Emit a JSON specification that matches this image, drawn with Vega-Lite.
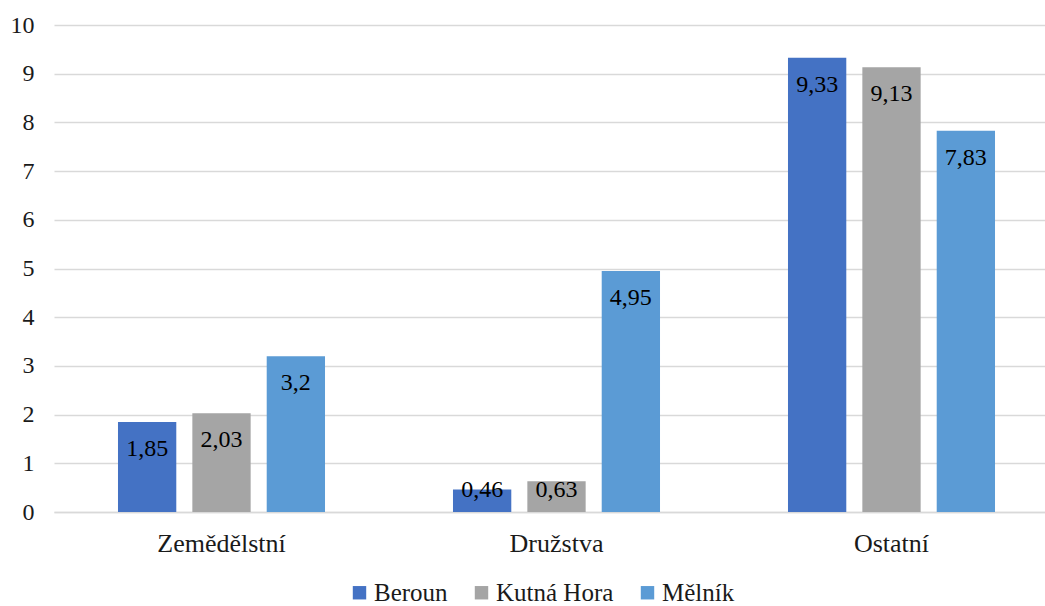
{
  "$schema": "https://vega.github.io/schema/vega-lite/v6.json",
  "width": 1005,
  "height": 487,
  "autosize": {"type": "none"},
  "padding": {"left": 54, "top": 25, "right": 0, "bottom": 94},
  "background": "white",
  "config": {
    "font": "Liberation Serif, Times New Roman, serif",
    "view": {"stroke": null},
    "locale": {
      "number": {"decimal": ",", "thousands": " ", "grouping": [3], "currency": ["", " Kč"]}
    }
  },
  "data": {
    "values": [
      {"kategorie": "Zemědělstní", "okres": "Beroun", "hodnota": 1.85},
      {"kategorie": "Zemědělstní", "okres": "Kutná Hora", "hodnota": 2.03},
      {"kategorie": "Zemědělstní", "okres": "Mělník", "hodnota": 3.2},
      {"kategorie": "Družstva", "okres": "Beroun", "hodnota": 0.46},
      {"kategorie": "Družstva", "okres": "Kutná Hora", "hodnota": 0.63},
      {"kategorie": "Družstva", "okres": "Mělník", "hodnota": 4.95},
      {"kategorie": "Ostatní", "okres": "Beroun", "hodnota": 9.33},
      {"kategorie": "Ostatní", "okres": "Kutná Hora", "hodnota": 9.13},
      {"kategorie": "Ostatní", "okres": "Mělník", "hodnota": 7.83}
    ]
  },
  "encoding": {
    "x": {
      "field": "kategorie",
      "type": "nominal",
      "sort": ["Zemědělstní", "Družstva", "Ostatní"],
      "scale": {"paddingInner": 0.382, "paddingOuter": 0.191},
      "axis": {
        "title": null,
        "labelAngle": 0,
        "labelFont": "Liberation Serif, Times New Roman, serif",
        "labelFontSize": 26,
        "labelColor": "#1a1a1a",
        "labelPadding": 18,
        "ticks": false,
        "domainColor": "#d9d9d9",
        "domainWidth": 1.5
      }
    },
    "xOffset": {
      "field": "okres",
      "type": "nominal",
      "sort": ["Beroun", "Kutná Hora", "Mělník"],
      "scale": {"paddingInner": 0.216, "paddingOuter": 0}
    },
    "y": {
      "field": "hodnota",
      "type": "quantitative",
      "scale": {"domain": [0, 10], "nice": false},
      "axis": {
        "title": null,
        "values": [0, 1, 2, 3, 4, 5, 6, 7, 8, 9, 10],
        "labelOverlap": false,
        "labelFont": "Liberation Serif, Times New Roman, serif",
        "labelFontSize": 24,
        "labelColor": "#1a1a1a",
        "labelPadding": 20,
        "ticks": false,
        "domain": false,
        "gridColor": "#d9d9d9",
        "gridWidth": 1.5
      }
    }
  },
  "layer": [
    {
      "mark": {"type": "bar"},
      "encoding": {
        "color": {
          "field": "okres",
          "type": "nominal",
          "sort": ["Beroun", "Kutná Hora", "Mělník"],
          "scale": {
            "domain": ["Beroun", "Kutná Hora", "Mělník"],
            "range": ["#4472C4", "#A5A5A5", "#5B9BD5"]
          },
          "legend": {
            "title": null,
            "orient": "none",
            "legendX": 293,
            "legendY": 555,
            "direction": "horizontal",
            "symbolType": "square",
            "symbolSize": 180,
            "symbolStrokeWidth": 0,
            "labelFont": "Liberation Serif, Times New Roman, serif",
            "labelFontSize": 25,
            "labelColor": "#1a1a1a",
            "labelOffset": 2,
            "columnPadding": 21
          }
        }
      }
    },
    {
      "transform": [{"filter": "datum.hodnota >= 1"}],
      "mark": {"type": "text", "font": "Liberation Serif, Times New Roman, serif", "fontSize": 24, "color": "#000", "baseline": "middle", "dy": 27},
      "encoding": {
        "text": {"field": "hodnota", "type": "quantitative", "format": ".3~g"}
      }
    },
    {
      "transform": [{"filter": "datum.hodnota < 1"}],
      "mark": {"type": "text", "font": "Liberation Serif, Times New Roman, serif", "fontSize": 24, "color": "#000", "baseline": "middle", "dy": -22},
      "encoding": {
        "y": {"datum": 0, "type": "quantitative"},
        "text": {"field": "hodnota", "type": "quantitative", "format": ".3~g"}
      }
    }
  ]
}
